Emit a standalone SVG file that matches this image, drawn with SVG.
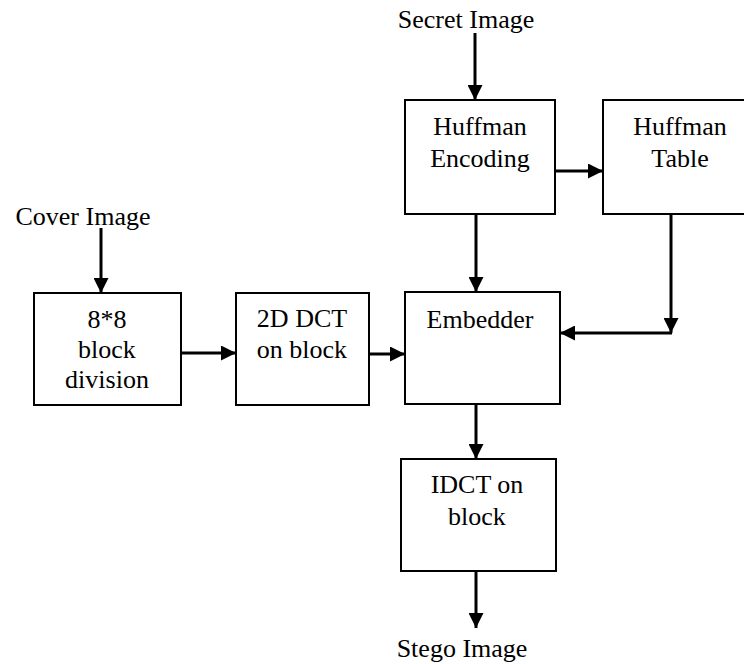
<svg xmlns="http://www.w3.org/2000/svg" width="744" height="664" viewBox="0 0 744 664">
<style>
.box{fill:#fff;stroke:#000;stroke-width:2}
.t{font-family:'Liberation Serif','Tinos','Times New Roman','DejaVu Serif',serif;font-size:26px;fill:#000;text-anchor:middle}
.c{fill:none;stroke:#000;stroke-width:3}
</style>
<defs>
<marker id="ah" viewBox="0 0 10 10" refX="10" refY="5" markerWidth="5" markerHeight="5" markerUnits="strokeWidth" orient="auto">
<path d="M0,0 L10,5 L0,10 Z" fill="#000"/>
</marker>
</defs>
<rect width="744" height="664" fill="#fff"/>
<g id="connectors">
<line class="c" x1="475" y1="33" x2="475" y2="100" marker-end="url(#ah)"/>
<line class="c" x1="101" y1="228" x2="101" y2="293" marker-end="url(#ah)"/>
<line class="c" x1="555" y1="171" x2="603" y2="171" marker-end="url(#ah)"/>
<line class="c" x1="181" y1="353" x2="236" y2="353" marker-end="url(#ah)"/>
<line class="c" x1="369" y1="354" x2="405" y2="354" marker-end="url(#ah)"/>
<line class="c" x1="476" y1="214" x2="476" y2="292" marker-end="url(#ah)"/>
<line class="c" x1="671" y1="214" x2="671" y2="333" marker-end="url(#ah)"/>
<line class="c" x1="672" y1="333" x2="560" y2="333" marker-end="url(#ah)"/>
<line class="c" x1="476" y1="404" x2="476" y2="459" marker-end="url(#ah)"/>
<line class="c" x1="476" y1="571" x2="476" y2="628" marker-end="url(#ah)"/>
</g>
<g id="secret"><text class="t" x="466" y="28" font-family="Liberation Serif, serif">Secret Image</text></g>
<g id="cover"><text class="t" x="83" y="225" font-family="Liberation Serif, serif">Cover Image</text></g>
<g id="stego"><text class="t" x="462" y="657" font-family="Liberation Serif, serif">Stego Image</text></g>
<g id="huffenc">
<rect class="box" x="405" y="100" width="150" height="114"/>
<text class="t" x="480" y="135">Huffman</text>
<text class="t" x="480" y="167">Encoding</text>
</g>
<g id="hufftable">
<rect class="box" x="603" y="100" width="160" height="114"/>
<text class="t" x="680" y="135">Huffman</text>
<text class="t" x="680" y="167">Table</text>
</g>
<g id="blockdiv">
<rect class="box" x="34" y="293" width="147" height="112"/>
<text class="t" x="107" y="328">8*8</text>
<text class="t" x="107" y="358">block</text>
<text class="t" x="107" y="388">division</text>
</g>
<g id="dct">
<rect class="box" x="236" y="293" width="133" height="112"/>
<text class="t" x="302" y="327">2D DCT</text>
<text class="t" x="302" y="358">on block</text>
</g>
<g id="embedder">
<rect class="box" x="405" y="292" width="155" height="112"/>
<text class="t" x="480" y="328">Embedder</text>
</g>
<g id="idct">
<rect class="box" x="401" y="459" width="155" height="112"/>
<text class="t" x="477" y="493">IDCT on</text>
<text class="t" x="477" y="525">block</text>
</g>
</svg>
